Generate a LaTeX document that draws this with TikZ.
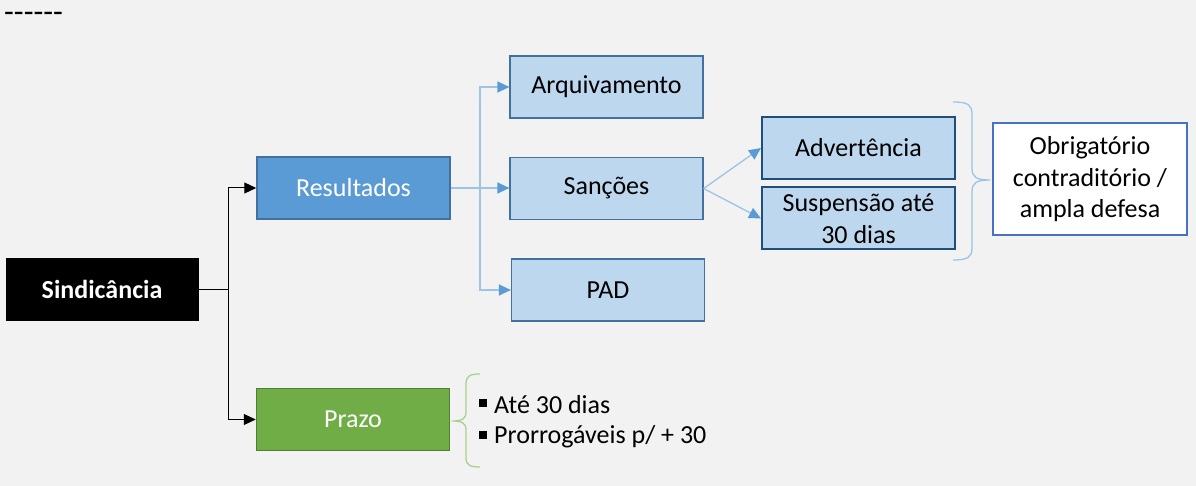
\documentclass[tikz,border=0pt]{standalone}
\usepackage{fontspec}
\setmainfont{Carlito}
\usetikzlibrary{arrows.meta}
\definecolor{bg}{HTML}{F2F2F2}
\definecolor{midblue}{HTML}{5B9BD5}
\definecolor{midborder}{HTML}{41719C}
\definecolor{lightblue}{HTML}{BDD7EE}
\definecolor{lineblue}{HTML}{9DC3E6}
\definecolor{navy}{HTML}{1F4E79}
\definecolor{boxblue}{HTML}{4472C4}
\definecolor{green}{HTML}{70AD47}
\definecolor{greenborder}{HTML}{507E32}
\definecolor{bracegreen}{HTML}{A9D18E}
\begin{document}
\begin{tikzpicture}[x=1pt,y=-1pt,
  every node/.style={font=\fontsize{26}{31.5}\selectfont, inner sep=0pt, align=center},
  box/.style={rectangle, minimum width=193pt, minimum height=62pt},
  darkbox/.style={box, fill=black, text=white, font=\fontsize{26}{31}\selectfont\bfseries},
  midbox/.style={box, fill=midblue, draw=midborder, line width=1.5pt, text=white},
  lightbox/.style={box, fill=lightblue, draw=midborder, line width=1.2pt, text=black},
  navybox/.style={box, fill=lightblue, draw=navy, line width=2pt, text=black},
  whitebox/.style={rectangle, minimum width=194pt, minimum height=112pt, fill=white, draw=boxblue, line width=2pt},
  greenbox/.style={box, fill=green, draw=greenborder, line width=1.5pt, text=white},
  blkline/.style={draw=black, line width=1pt},
  blkarrow/.style={blkline, -{Triangle[length=12pt,width=11pt]}},
  blueline/.style={draw=lineblue, line width=1.3pt},
  bluearrow/.style={blueline, -{Triangle[length=12pt,width=11pt,color=midblue]}},
  bluebrace/.style={draw=lineblue, line width=1.3pt},
  greenbrace/.style={draw=bracegreen, line width=1.3pt}
]
\useasboundingbox (0,0) rectangle (1196,486);
\fill[bg] (0,0) rectangle (1196,486);

\node[anchor=west, font=\fontsize{32}{36}\selectfont] (dash) at (4,17) {{-}{-}{-}{-}{-}{-}};

\node[darkbox] (sind) at (102,289.5) {Sindicância};
\node[midbox] (res) at (353.5,188) {Resultados};
\node[greenbox] (prazo) at (353,419.5) {Prazo};
\node[lightbox] (arq) at (606.5,87) {Arquivamento};
\node[lightbox] (sanc) at (606.5,188.5) {Sanções};
\node[lightbox] (pad) at (608,290) {PAD};
\node[navybox] (adv) at (858.5,148) {Advertência};
\node[navybox] (susp) at (858.5,218.5) {Suspensão até\\30 dias};
\node[whitebox] (obr) at (1090,179.5) {Obrigatório\\contraditório /\\ampla defesa};

\coordinate (j1) at (228,289.5);
\draw[blkline] (sind.east) -- (j1);
\draw[blkarrow] (j1) |- (res.west);
\draw[blkarrow] (j1) |- (prazo.west);

\coordinate (j2) at (480,188);
\draw[bluearrow] (res.east) -- (sanc.west |- res.east);
\draw[bluearrow] (j2) |- (arq.west);
\draw[bluearrow] (j2) |- (pad.west);

\draw[bluearrow] (sanc.east) -- (adv.west);
\draw[bluearrow] (sanc.east) -- (susp.west);

% right brace
\draw[bluebrace] (953,102) .. controls (968,102) and (972,105) .. (972,114)
  -- (972,168) .. controls (972,177) and (976,180) .. (990,180)
  .. controls (976,180) and (972,183) .. (972,192)
  -- (972,248) .. controls (972,257) and (968,260) .. (953,260);

% left brace (green)
\draw[greenbrace] (480,374) .. controls (470,374) and (466,376) .. (466,384)
  -- (466,412) .. controls (466,419) and (462,421) .. (452,421)
  .. controls (462,421) and (466,423) .. (466,430)
  -- (466,458) .. controls (466,465) and (470,467) .. (480,467);

\fill (479,399) rectangle (487,407);
\node[anchor=west] (b1) at (494,405) {Até 30 dias};
\fill (479,431) rectangle (487,439);
\node[anchor=west] (b2) at (494,437) {Prorrogáveis p/ + 30};
\end{tikzpicture}
\end{document}
